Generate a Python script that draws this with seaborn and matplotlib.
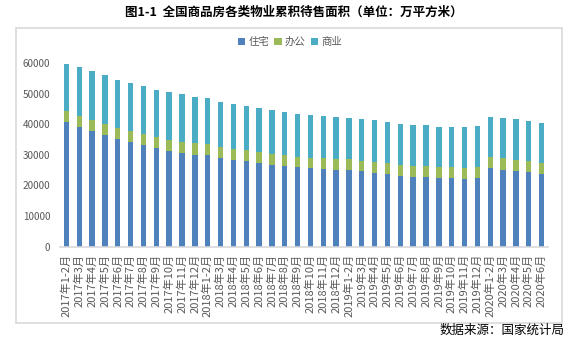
import matplotlib
matplotlib.use("Agg")
import matplotlib.pyplot as plt
from matplotlib.patches import Patch, Rectangle
import numpy as np
import pandas as pd
import seaborn as sns

# 月份标签
months = (
    ["2017年1-2月"] + [f"2017年{m}月" for m in range(3, 13)]
    + ["2018年1-2月"] + [f"2018年{m}月" for m in range(3, 13)]
    + ["2019年1-2月"] + [f"2019年{m}月" for m in range(3, 13)]
    + ["2020年1-2月"] + [f"2020年{m}月" for m in range(3, 7)]
)

# 各类物业待售面积（万平方米）
residential = [40650, 39020, 37700, 36400, 35100, 34130, 33150, 32170, 31200, 30540,
               29890, 29890, 28910, 28260, 27930, 27280, 26630, 26300, 25980, 25650,
               25330, 25000, 25000, 24670, 24020, 23700, 23040, 22720, 22720, 22390,
               22390, 22070, 22390, 25650, 25000, 24670, 24350, 23700]
office = [3590, 3580, 3600, 3600, 3600, 3590, 3590, 3590, 3580, 3590,
          3910, 3590, 3590, 3590, 3590, 3590, 3590, 3590, 3260, 3260,
          3580, 3590, 3590, 3260, 3590, 3580, 3590, 3580, 3580, 3590,
          3590, 3580, 3590, 3590, 3910, 3590, 3580, 3580]
commercial = [15540, 15990, 15980, 15980, 15650, 15650, 15650, 15330, 15650, 15650,
              15000, 15000, 14670, 14670, 14350, 14350, 14345, 14020, 14020, 14020,
              13700, 13690, 13370, 13700, 13690, 13370, 13370, 13370, 13370, 13040,
              13040, 13370, 13370, 13040, 13050, 13370, 13050, 13050]

series_names = ["住宅", "办公", "商业"]
colors = ["#4F81BD", "#9BBB59", "#4BACC6"]

df = pd.DataFrame({"月份": months, "住宅": residential, "办公": office, "商业": commercial})
df["住宅+办公"] = df["住宅"] + df["办公"]
df["合计"] = df["住宅+办公"] + df["商业"]

sns.set_theme(style="white")
plt.rcParams["font.family"] = ["Noto Sans CJK SC", "DejaVu Sans"]

W, H = 581, 344
fig = plt.figure(figsize=(W / 100, H / 100), dpi=100)
fig.patch.set_facecolor("white")

# 图表外框
fig.add_artist(Rectangle((16 / W, 1 - 323 / H), (562 - 16) / W, (323 - 28) / H,
                         transform=fig.transFigure, fill=False,
                         edgecolor="#D9D9D9", linewidth=1.2))

left, right, top, bottom = 60, 548, 63, 246.7
ax = fig.add_axes([left / W, 1 - bottom / H, (right - left) / W, (bottom - top) / H])

bw = 0.42
# 堆叠柱：先画合计，再依次覆盖
sns.barplot(data=df, x="月份", y="合计", color=colors[2], width=bw, errorbar=None,
            saturation=1, ax=ax, order=months)
sns.barplot(data=df, x="月份", y="住宅+办公", color=colors[1], width=bw, errorbar=None,
            saturation=1, ax=ax, order=months)
sns.barplot(data=df, x="月份", y="住宅", color=colors[0], width=bw, errorbar=None,
            saturation=1, ax=ax, order=months)
for p in ax.patches:
    p.set_linewidth(0)

ax.set_xlim(-0.5, len(months) - 0.5)
ax.set_ylim(0, 60000)
ax.set_yticks(np.arange(0, 60001, 10000))
ax.set_xlabel("")
ax.set_ylabel("")
for s in ["top", "right", "left"]:
    ax.spines[s].set_visible(False)
ax.spines["bottom"].set_color("#D9D9D9")
ax.spines["bottom"].set_linewidth(1.2)
ax.tick_params(axis="y", length=0, pad=7, labelsize=7.2, labelcolor="#595959")
ax.tick_params(axis="x", length=0, pad=5, labelsize=8, labelcolor="#595959")
ax.set_xticks(range(len(months)))
ax.set_xticklabels(months, rotation=90, ha="center", va="top")

handles = [Patch(facecolor=c, edgecolor="none") for c in colors]
fig.legend(handles, series_names, loc="center", bbox_to_anchor=(290 / W, 1 - 42 / H),
           ncol=3, frameon=False, fontsize=7.5, handlelength=0.7, handleheight=0.7,
           handletextpad=0.3, columnspacing=0.5, labelcolor="#595959")

fig.text(294 / W, 1 - 12 / H, "图1-1  全国商品房各类物业累积待售面积（单位：万平方米）",
         ha="center", va="center", fontsize=9, fontweight="bold", color="black")
fig.text(565 / W, 1 - 330 / H, "数据来源：国家统计局", ha="right", va="center",
         fontsize=9, color="black")

fig.savefig("out.png", dpi=100, facecolor="white")
